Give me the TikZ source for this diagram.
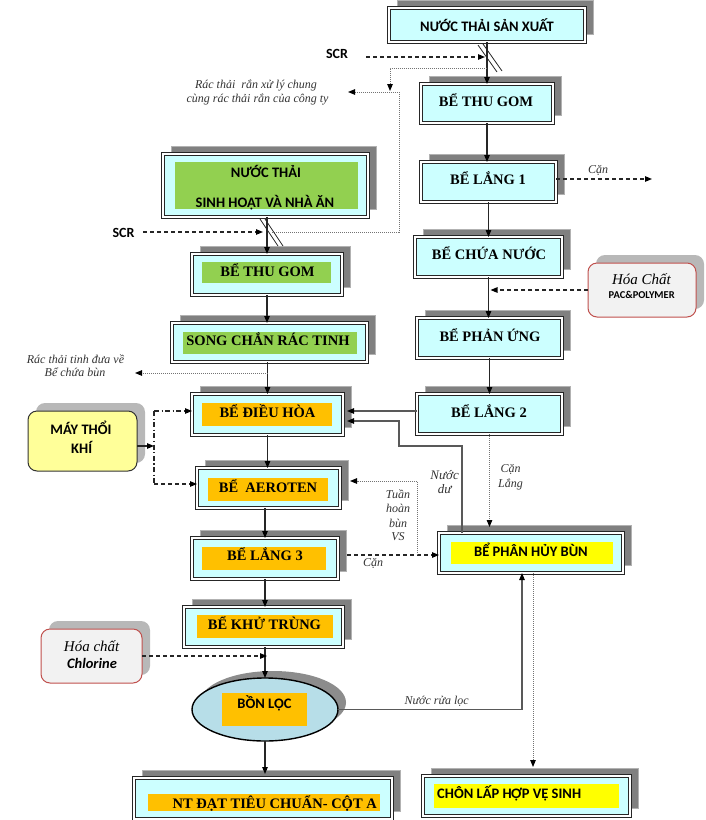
\documentclass[tikz,border=0pt]{standalone}
\usepackage{fontspec}
\setmainfont{Liberation Serif}
\newfontfamily\calfont{Carlito}
\usetikzlibrary{arrows.meta,shadows,fit,shapes.geometric}
\definecolor{cyanbox}{HTML}{CCFFFF}
\definecolor{orangein}{HTML}{FFC000}
\definecolor{greenin}{HTML}{92D050}
\definecolor{yellowin}{HTML}{FFFF00}
\definecolor{paleyel}{HTML}{FFFF99}
\definecolor{lblue}{HTML}{B7DEE8}
\definecolor{redb}{HTML}{C0504D}
\definecolor{lgray}{HTML}{F2F2F2}
\tikzset{
 tank/.style={draw=black!85, line width=1pt, double=white, double distance=1.5pt, fill=cyanbox, inner sep=0pt, outer sep=0pt,
   general shadow={fill=black!50, draw=black!30, line width=1pt, shadow xshift=8pt, shadow yshift=8pt}},
 rbox/.style={rounded corners=9pt, inner sep=0pt, outer sep=0pt, line width=1pt,
   general shadow={fill=black!28, shadow xshift=8pt, shadow yshift=8pt}},
 sb/.style={font=\calfont\bfseries\fontsize{14.5}{17}\selectfont, inner sep=0pt, anchor=base},
 rb/.style={font=\bfseries\fontsize{14.5}{17}\selectfont, inner sep=0pt, anchor=base},
 lab/.style={font=\itshape\fontsize{12}{14}\selectfont, text=black!80, inner sep=0pt, anchor=base},
 tip/.style={-{Triangle[length=7pt,width=5.5pt,color=black]}},
 arr/.style={draw=black!85, line width=1.1pt, tip},
 garr/.style={draw=black!65, line width=1.1pt, tip},
 darr/.style={arr, dash pattern=on 4pt off 3pt},
 ddarr/.style={arr, dash pattern=on 5pt off 2.5pt on 1.2pt off 2.5pt},
 dotl/.style={draw=black!55, line width=1pt, dash pattern=on 1pt off 1pt},
 dotarr/.style={dotl, tip},
 slash/.style={draw=black!85, line width=0.8pt}
}
\begin{document}
\begin{tikzpicture}[x=1pt,y=-1pt]
\useasboundingbox[fill=white] (0,0) rectangle (706,820);

% ---------- right column ----------
\node[tank, fit={(389,8)(585,42)}] (sx) {};
\node[sb] (sx-t) at (487,31) {NƯỚC THẢI SẢN XUẤT};

\node[tank, fit={(421,84)(553,123)}] (tgR) {};
\node[rb] (tgR-t) at (486,106) {BỂ THU GOM};

\node[tank, fit={(421,162)(556,202)}] (l1) {};
\node[rb] (l1-t) at (488,184) {BỂ LẮNG 1};

\node[tank, fit={(415,237)(562,277)}] (cn) {};
\node[rb] (cn-t) at (489,259) {BỂ CHỨA NƯỚC};

\node[tank, fit={(417,318)(562,358)}] (pu) {};
\node[rb] (pu-t) at (490,341) {BỂ PHẢN ỨNG};

\node[tank, fit={(417,394)(562,434)}] (l2) {};
\node[rb] (l2-t) at (489,417) {BỂ LẮNG 2};

\node[tank, fit={(439,533)(623,573)}] (ph) {};
\fill[yellowin] (451,542) rectangle (613,564);
\node[sb] (ph-t) at (531,556) {BỂ PHÂN HỦY BÙN};

\node[tank, fit={(423,776)(630,816)}] (cl) {};
\fill[yellowin] (434,784) rectangle (619,808);
\node[sb, anchor=base west] (cl-t) at (437,798) {CHÔN LẤP HỢP VỆ SINH};

\node[rbox, draw=redb, fill=lgray, fit={(588,263)(696,317)}] (pac) {};
\node[font=\itshape\fontsize{15}{17}\selectfont, inner sep=0pt, anchor=base] (pac-t1) at (641.5,284) {Hóa Chất};
\node[font=\calfont\bfseries\fontsize{10.5}{12}\selectfont, inner sep=0pt, anchor=base] (pac-t2) at (641.7,298) {PAC\&POLYMER};

% ---------- left column ----------
\node[tank, fit={(163,154)(368,217)}] (sh) {};
\fill[greenin] (175,162) rectangle (358,209);
\node[sb] (sh-t1) at (266,177) {NƯỚC THẢI};
\node[sb] (sh-t2) at (265,207) {SINH HOẠT VÀ NHÀ ĂN};

\node[tank, fit={(192,254)(342,295)}] (tgL) {};
\fill[greenin] (202,262) rectangle (331,283);
\node[rb] (tgL-t) at (267.5,276) {BỂ THU GOM};

\node[tank, fit={(172,323)(367,362)}] (song) {};
\fill[greenin] (183,332) rectangle (357,354);
\node[rb] (song-t) at (268,345) {SONG CHẮN RÁC TINH};

\node[tank, fit={(192,394)(343,435)}] (dh) {};
\fill[orangein] (202,403) rectangle (332,426);
\node[rb] (dh-t) at (267.5,417) {BỂ ĐIỀU HÒA};

\node[tank, fit={(197,468)(340,508)}] (ae) {};
\fill[orangein] (208,478) rectangle (328,501);
\node[rb] (ae-t) at (268,492) {BỂ\ \ AEROTEN};

\node[tank, fit={(192,538)(338,579)}] (l3) {};
\fill[orangein] (202,547) rectangle (326,570);
\node[rb] (l3-t) at (265,560) {BỂ LẮNG 3};

\node[tank, fit={(184,607)(343,647)}] (kt) {};
\fill[orangein] (197,615) rectangle (333,638);
\node[rb] (kt-t) at (264.5,629) {BỂ KHỬ TRÙNG};

\node[ellipse, draw=black, line width=1.4pt, fill=lblue, minimum width=146pt, minimum height=63pt, inner sep=0pt, outer sep=0pt,
  general shadow={fill=black!45, shadow xshift=8pt, shadow yshift=7pt}] (bl) at (265,709.5) {};
\fill[orangein] (222,693) rectangle (307,726);
\node[sb] (bl-t) at (264.5,708) {BỒN LỌC};

\node[tank, fit={(134,778)(392,819)}] (nt) {};
\fill[orangein] (148,794) rectangle (380,811);
\node[rb] (nt-t) at (274.7,808) {NT ĐẠT TIÊU CHUẨN- CỘT A};

\node[rbox, draw=black!80, fill=paleyel, fit={(28,411)(137,471)}] (mt) {};
\node[sb] (mt-t1) at (81,434) {MÁY THỔI};
\node[sb] (mt-t2) at (81.7,453) {KHÍ};

\node[rbox, draw=redb, fill=lgray, fit={(41,629)(142,683)}] (chl) {};
\node[font=\itshape\fontsize{15}{17}\selectfont, inner sep=0pt, anchor=base] (chl-t1) at (91.7,651) {Hóa chất};
\node[font=\calfont\bfseries\itshape\fontsize{14.5}{17}\selectfont, inner sep=0pt, anchor=base] (chl-t2) at (92,668) {Chlorine};

% ---------- SCR labels ----------
\node[sb, font=\calfont\bfseries\fontsize{14}{17}\selectfont] (scr1) at (337,58) {SCR};
\node[sb, font=\calfont\bfseries\fontsize{14}{17}\selectfont] (scr2) at (123.5,237) {SCR};

% ---------- free coordinates ----------
\coordinate (scr1a) at (366,57);
\coordinate (scr1b) at (485,57);
\coordinate (scr2a) at (143,232);
\coordinate (scr2b) at (263,232);
\coordinate (canR) at (652,179);
\coordinate (tinh) at (135,373);
\coordinate (mtj) at (154,446);
\coordinate (mtt) at (154,411);
\coordinate (mtb) at (154,484);

% ---------- right column flow ----------
\draw[arr] (sx.south) -- (tgR.north);
\draw[arr] (tgR.south) -- (tgR.south |- l1.north);
\draw[arr] (l1.south) -- (l1.south |- cn.north);
\draw[arr] (cn.south) -- (cn.south |- pu.north);
\draw[arr] (pu.south) -- (pu.south |- l2.north);
\draw[darr] ([yshift=3pt]l1.east) -- (canR);
\draw[darr] (pac.west) -- ([xshift=1pt]pac.west -| pu.north);
\draw[darr] (scr1a) -- (scr1b);
\draw[slash] (478,45) -- (497,72);
\draw[slash] (483,44) -- (502,71);

% dotted solid-waste lines
\draw[dotarr] (487,68) -- (390,68) -- (390,91);
\draw[dotarr] (272,232) -- (399,232) -- (399,92) -- (348,92);

% ---------- left column flow ----------
\draw[arr] (tgL.north |- sh.south) -- (tgL.north);
\draw[darr] (scr2a) -- (scr2b);
\draw[slash] (260,219) -- (278,246);
\draw[slash] (265,219) -- (283,246);
\draw[arr] (tgL.south) -- (tgL.south |- song.north);
\draw[arr] (dh.north |- song.south) -- (dh.north);
\draw[dotarr] (dh.north |- tinh) -- (tinh);
\draw[arr] (dh.south) -- (dh.south |- ae.north);
\draw[arr] (l3.north |- ae.south) -- (l3.north);
\draw[arr] (l3.south) -- (l3.south |- kt.north);
\draw[arr] (bl.north |- kt.south) -- (bl.north);
\draw[arr] (bl.south) -- ([yshift=4pt]bl.south |- nt.north);
\draw[darr] (chl.east) -- ([xshift=2pt]chl.east -| bl.north);

% blower
\draw[arr] ([yshift=-5pt]mt.east) -- (mtj);
\draw[ddarr, -] (mtt) -- (mtb);
\draw[ddarr] (mtt) -- (dh.west |- mtt);
\draw[darr] (mtb) -- (ae.west |- mtb);

% ---------- returns ----------
\draw[garr] ([yshift=3pt]l2.west) -- (347,411);
\draw[garr] (ph.north -| 462,0) -- (462,446) -- (399,446) -- (399,421) -- (347,421);
\draw[dotarr] (l2.south) -- ([yshift=6pt]l2.south |- ph.north);
\draw[darr] (347,555) -- (ph.west |- 347,555);
\draw[dotarr] (417,555) -- (417,481) -- (350,481);
\draw[garr] (bl.east) -| (ph.south -| 522,0);
\draw[dotarr] (ph.south -| 533,0) -- (533,767);

% ---------- labels ----------
\node[lab] (lb1) at (598,173) {Cặn};
\node[lab] (lb2a) at (256,88) {Rác thải\ \ rắn xử lý chung};
\node[lab] (lb2b) at (257.5,102.7) {cùng rác thải rắn của công ty};
\node[lab] (lb3a) at (75.5,363) {Rác thải tinh đưa về};
\node[lab] (lb3b) at (75,376) {Bể chứa bùn};
\node[lab, font=\itshape\fontsize{13}{14}\selectfont] (lb4a) at (444.7,479) {Nước};
\node[lab, font=\itshape\fontsize{13}{14}\selectfont] (lb4b) at (444.7,493) {dư};
\node[lab] (lb5a) at (510.5,472.7) {Cặn};
\node[lab] (lb5b) at (510.5,487) {Lắng};
\node[lab] (lb6a) at (398,498) {Tuần};
\node[lab] (lb6b) at (398,512) {hoàn};
\node[lab] (lb6c) at (398,527) {bùn};
\node[lab] (lb6d) at (398,540) {VS};
\node[lab] (lb7) at (373,566.7) {Cặn};
\node[lab] (lb8) at (436.7,704) {Nước rửa lọc};
\end{tikzpicture}
\end{document}
